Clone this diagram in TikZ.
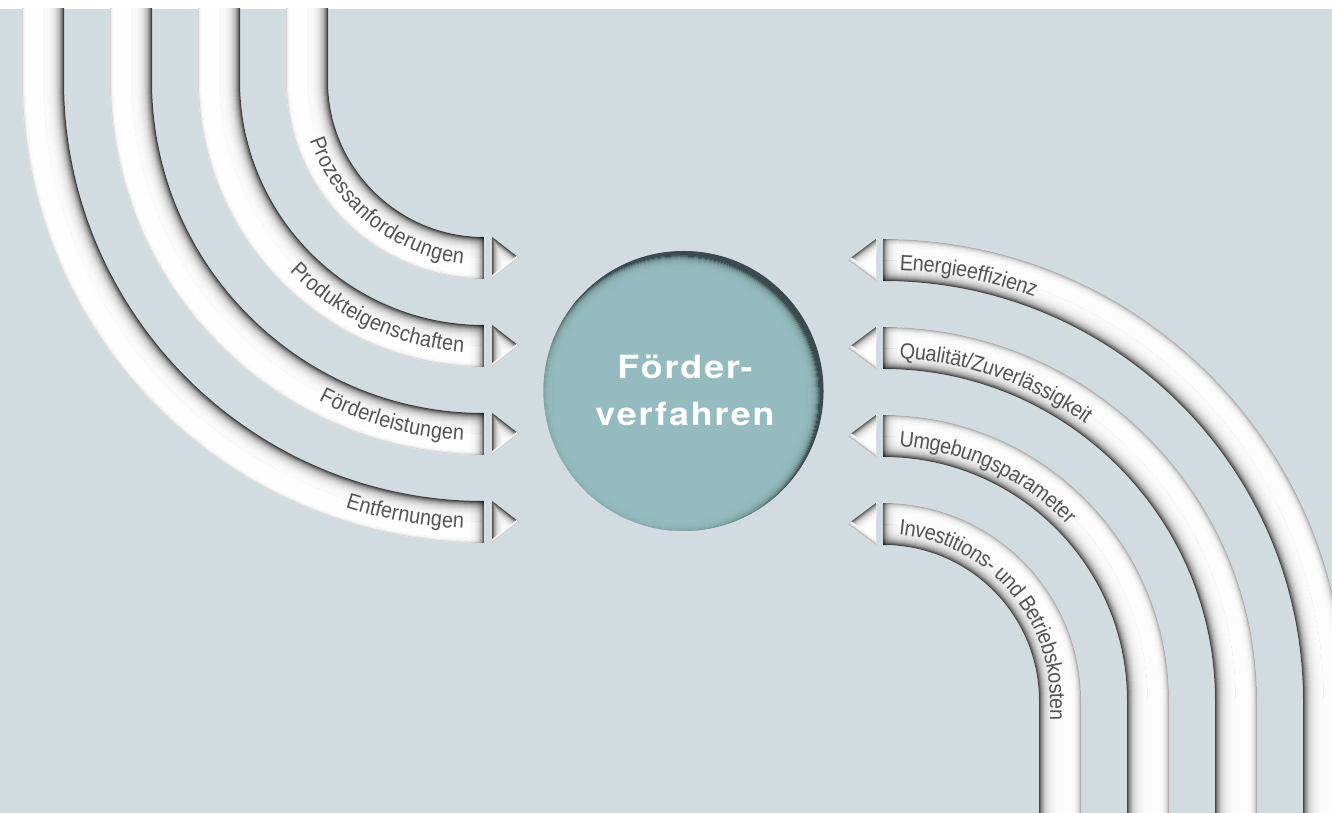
\documentclass[tikz,border=0pt]{standalone}
\usepackage{fontspec}
\usetikzlibrary{decorations.text}
\newfontfamily\stripfont[FakeStretch=0.9]{Liberation Sans}
\newfontfamily\hubfont[FakeStretch=1.12,LetterSpace=6]{TeX Gyre Heros}
\definecolor{paper}{HTML}{D2DBE0}
\definecolor{hubteal}{HTML}{94BCC0}
\definecolor{labelgray}{HTML}{545454}
\newcommand\striplabel{\stripfont\fontsize{22}{26}\selectfont\color{labelgray}}

% centre lines of the bands: left ones come down and turn right,
% right ones leave to the right and turn down
\newcommand\bandL[1]{(484-#1,840) -- (484-#1,732) arc[start angle=180,end angle=270,radius=#1]}
\newcommand\bandR[1]{(883,112+#1) arc[start angle=90,end angle=0,radius=#1] -- (883+#1,-40)}

\tikzset{
  band/.style={line width=42pt, white},
  hub/.style={circle, fill=hubteal, minimum size=280pt, inner sep=0pt},
  hubtext/.style={text=white, align=center, inner sep=0pt,
    font=\hubfont\bfseries\fontsize{32}{47}\selectfont},
}

% band on the left with arrow head pointing right
\newcommand\leftband[2]{%
  \pgfmathsetmacro\yc{732-#1}
  \draw[band] \bandL{#1};
  \begin{scope}
    \clip \bandL{#1} -- (484,840) -- cycle;
    \foreach \d in {0,...,17}{
      \pgfmathsetmacro\bandw{42-2*\d}
      \pgfmathsetmacro\shadeamt{76*exp(-\d/4.6)}
      \draw[line width=\bandw pt, black!\shadeamt] \bandL{#1};
    }
  \end{scope}
  \begin{scope}
    \clip \bandL{#1} -- (484,-60) -- (-60,-60) -- (-60,840) -- cycle;
    \foreach \d in {0,...,5}{
      \pgfmathsetmacro\bandw{42-2*\d}
      \pgfmathsetmacro\shadeamt{16*exp(-\d/1.4)}
      \draw[line width=\bandw pt, black!\shadeamt] \bandL{#1};
    }
  \end{scope}
  \foreach \d in {0,...,13}{
    \pgfmathsetmacro\op{0.62*exp(-\d/3.5)}
    \fill[black, opacity=\op] (483-\d,\yc-21) rectangle (484-\d,\yc+21);
  }
  \fill[white] (492,\yc-21) -- (492,\yc+21) -- (519,\yc) -- cycle;
  \begin{scope}
    \clip (492,\yc-21) -- (492,\yc+21) -- (519,\yc) -- cycle;
    \foreach \d in {12,...,1}{
      \pgfmathsetmacro\bandw{2*\d}
      \pgfmathsetmacro\shadeamt{68*exp(-(\d-1)/3.2)}
      \draw[line width=\bandw pt, black!\shadeamt] (492,\yc-21) -- (492,\yc+21) -- (519,\yc);
    }
    \foreach \d in {3,...,1}{
      \pgfmathsetmacro\bandw{2*\d}
      \pgfmathsetmacro\shadeamt{20*exp(-(\d-1))}
      \draw[line width=\bandw pt, black!\shadeamt] (492,\yc-21) -- (519,\yc);
    }
  \end{scope}
  \path[decorate, decoration={text along path, text={|\striplabel|#2},
    text align={right, right indent=20pt}, raise=-7pt}] \bandL{#1};
}

% band on the right with arrow head pointing left
\newcommand\rightband[2]{%
  \pgfmathsetmacro\yc{112+#1}
  \draw[band] \bandR{#1};
  \begin{scope}
    \clip \bandR{#1} -- (883,-40) -- cycle;
    \foreach \d in {0,...,17}{
      \pgfmathsetmacro\bandw{42-2*\d}
      \pgfmathsetmacro\shadeamt{72*exp(-\d/4.6)}
      \draw[line width=\bandw pt, black!\shadeamt] \bandR{#1};
    }
  \end{scope}
  \begin{scope}
    \clip \bandR{#1} -- (1420,-40) -- (1420,900) -- (883,900) -- cycle;
    \foreach \d in {0,...,9}{
      \pgfmathsetmacro\bandw{42-2*\d}
      \pgfmathsetmacro\shadeamt{32*exp(-\d/2.6)}
      \draw[line width=\bandw pt, black!\shadeamt] \bandR{#1};
    }
  \end{scope}
  \foreach \d in {0,...,13}{
    \pgfmathsetmacro\op{0.62*exp(-\d/3.5)}
    \fill[black, opacity=\op] (883+\d,\yc-21) rectangle (884+\d,\yc+21);
  }
  \fill[white] (876,\yc-21) -- (876,\yc+21) -- (848,\yc) -- cycle;
  \begin{scope}
    \clip (876,\yc-21) -- (876,\yc+21) -- (848,\yc) -- cycle;
    \foreach \d in {12,...,1}{
      \pgfmathsetmacro\bandw{2*\d}
      \pgfmathsetmacro\shadeamt{62*exp(-(\d-1)/3.2)}
      \draw[line width=\bandw pt, black!\shadeamt] (876,\yc+21) -- (848,\yc);
    }
    \foreach \d in {4,...,1}{
      \pgfmathsetmacro\bandw{2*\d}
      \pgfmathsetmacro\shadeamt{28*exp(-(\d-1)/1.3)}
      \draw[line width=\bandw pt, black!\shadeamt] (848,\yc) -- (876,\yc-21);
    }
  \end{scope}
  \path[decorate, decoration={text along path, text={|\striplabel|#2},
    text align={left, left indent=17pt}, raise=-10pt}] \bandR{#1};
}

\begin{document}
\begin{tikzpicture}[x=1pt,y=1pt]
\useasboundingbox (0,0) rectangle (1332,813);
\fill[white] (0,0) rectangle (1332,813);
\begin{scope}
  \clip (0,0) rectangle (1332,804);
  \fill[paper] (0,0) rectangle (1332,804);

  \leftband{177}{Prozessanforderungen}
  \leftband{265}{Produkteigenschaften}
  \leftband{353}{Förderleistungen}
  \leftband{441}{Entfernungen}

  \rightband{441}{Energieeffizienz}
  \rightband{353}{Qualität/Zuverlässigkeit}
  \rightband{265}{Umgebungsparameter}
  \rightband{177}{Investitions- und Betriebskosten}

  % central disc with an inner shadow along its upper right rim
  \node[hub] (hub) at (683.5,422) {};
  \begin{scope}
    \clip (683.5,422) circle[radius=140];
    \fill[hubteal!40!black, even odd rule]
      (683.5,422) circle[radius=141] (679.5,417.5) circle[radius=140];
    \foreach \i in {0,...,13}{
      \pgfmathsetmacro\mixamt{100-60*exp(-\i/3.0)}
      \fill[hubteal!\mixamt!black, even odd rule]
        (679.5,417.5) circle[radius=140-\i] (679.5,417.5) circle[radius=139-\i];
    }
  \end{scope}
  \node[hubtext] (hubtitle) at (685,423) {Förder-\\verfahren};
\end{scope}
\end{tikzpicture}
\end{document}
